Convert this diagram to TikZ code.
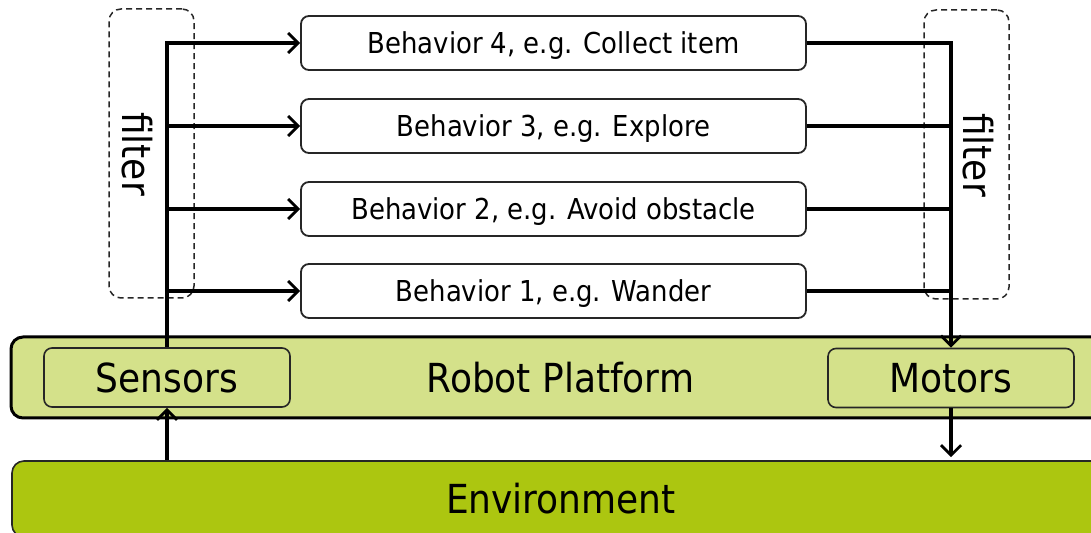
\documentclass[tikz,border=0pt]{standalone}
\usepackage{fontspec}
\setmainfont{DejaVu Sans Condensed}
\usepackage{tikz}
\usetikzlibrary{arrows.meta,positioning,calc}
\definecolor{platgreen}{RGB}{212,225,138}
\definecolor{envgreen}{RGB}{172,198,16}
\tikzset{
  behavior/.style={draw=black!85,line width=0.9pt,rounded corners=4pt,fill=white,text depth=0pt,
    minimum width=252.5pt,minimum height=27pt,font=\fontsize{14.4}{16}\selectfont},
  part/.style={draw=black!85,line width=0.8pt,rounded corners=4pt,fill=platgreen,
    minimum width=123pt,minimum height=29.5pt,font=\fontsize{20}{22}\selectfont},
  filterbox/.style={draw=black!85,line width=0.75pt,dash pattern=on 3pt off 2pt,
    rounded corners=6pt,minimum width=42.5pt,minimum height=144.5pt},
  filterlabel/.style={rotate=-90,font=\fontsize{20}{22}\selectfont},
  flow/.style={line width=1.6pt,-{Straight Barb[length=5pt,width=10pt,line width=1.4pt]}},
  wire/.style={line width=1.6pt}
}
\begin{document}
\begin{tikzpicture}[x=0.5pt,y=-0.5pt]
\clip(0,0)rectangle(1091,533);
\useasboundingbox(0,0)rectangle(1091,533);
%platform and environment
\node[draw,line width=1.5pt,rounded corners=6pt,fill=platgreen,minimum width=549.5pt,
  minimum height=40.5pt,font=\fontsize{20}{22}\selectfont](platform)at(560.5,377.5){Robot Platform};
\node[draw=black!85,line width=0.8pt,rounded corners=6pt,fill=envgreen,minimum width=549pt,
  minimum height=38pt,font=\fontsize{20}{22}\selectfont](env)at(561,499){Environment};
\node[part](sensors)at(167,377.5){Sensors};
\node[part](motors)at(951,378){Motors};
%filters
\node[filterbox](lfilter)at(151.5,153.5){};
\node[filterbox](rfilter)at(966.5,154.5){};
\node[filterlabel](lfiltertext)at(137,154){filter};
\node[filterlabel](rfiltertext)at(978,155){filter};
%behaviors
\node[behavior](b4)at(553.5,43){Behavior 4, e.g. Collect item};
\node[behavior](b3)at(553.5,126){Behavior 3, e.g. Explore};
\node[behavior](b2)at(553.5,209){Behavior 2, e.g. Avoid obstacle};
\node[behavior](b1)at(553.5,291){Behavior 1, e.g. Wander};
%sensor side
\draw[flow](sensors.north)|-(b4.west);
\foreach \b in {b3,b2,b1}
  \draw[flow](sensors.north|-\b.west)--(\b.west);
%motor side
\draw[flow](b4.east)-|(motors.north);
\foreach \b in {b3,b2,b1}
  \draw[wire](\b.east)--(\b.east-|motors.north);
%environment links
\draw[flow](env.north-|sensors.south)--(sensors.south);
\draw[flow](motors.south)--($(motors.south|-env.north)+(0,-3)$);
\end{tikzpicture}
\end{document}
